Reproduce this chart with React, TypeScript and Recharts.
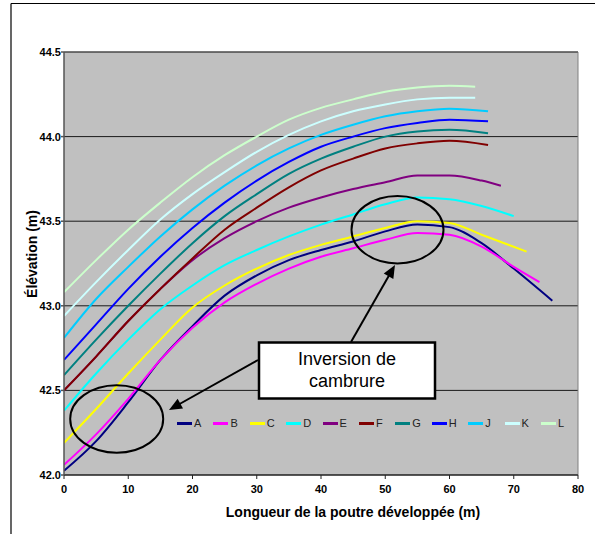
import React from 'react';
import {
  LineChart,
  Line,
  XAxis,
  YAxis,
  CartesianGrid,
  Legend,
  ReferenceLine,
} from 'recharts';

// distances along the beam (m) and elevations (m), one pair per curve
const lenA = [0, 5, 10, 15, 20, 25, 30, 35, 40, 45, 50, 55, 60, 65, 70, 76];
const elevA = [42.025, 42.2, 42.43, 42.68, 42.88, 43.06, 43.18, 43.27, 43.33, 43.38, 43.44, 43.48, 43.465, 43.37, 43.22, 43.03];

const lenB = [0, 5, 10, 15, 20, 25, 30, 35, 40, 45, 50, 55, 60, 65, 70, 74];
const elevB = [42.06, 42.24, 42.45, 42.68, 42.87, 43.02, 43.13, 43.22, 43.29, 43.34, 43.39, 43.43, 43.42, 43.35, 43.23, 43.14];

const lenC = [0, 5, 10, 15, 20, 25, 30, 35, 40, 45, 50, 55, 60, 65, 72];
const elevC = [42.19, 42.39, 42.6, 42.8, 42.99, 43.12, 43.22, 43.3, 43.36, 43.41, 43.46, 43.5, 43.49, 43.42, 43.32];

const lenD = [0, 5, 10, 15, 20, 25, 30, 35, 40, 45, 50, 55, 60, 65, 70];
const elevD = [42.38, 42.6, 42.8, 42.98, 43.12, 43.24, 43.33, 43.41, 43.48, 43.54, 43.6, 43.64, 43.63, 43.59, 43.53];

const lenE = [0, 5, 10, 15, 20, 25, 30, 35, 40, 45, 50, 55, 60, 65, 68];
const elevE = [42.5, 42.7, 42.91, 43.1, 43.27, 43.4, 43.5, 43.58, 43.64, 43.69, 43.73, 43.77, 43.77, 43.74, 43.71];

const lenFtoJ = [0, 5, 10, 15, 20, 25, 30, 35, 40, 45, 50, 55, 60, 66];
const elevF = [42.5, 42.7, 42.91, 43.1, 43.28, 43.45, 43.58, 43.7, 43.8, 43.87, 43.93, 43.96, 43.975, 43.95];
const elevG = [42.59, 42.8, 43.0, 43.19, 43.37, 43.53, 43.66, 43.78, 43.87, 43.94, 44.0, 44.03, 44.04, 44.02];
const elevH = [42.68, 42.89, 43.1, 43.29, 43.46, 43.61, 43.74, 43.85, 43.94, 44.0, 44.05, 44.08, 44.1, 44.09];
const elevJ = [42.81, 43.04, 43.23, 43.41, 43.57, 43.71, 43.83, 43.93, 44.01, 44.07, 44.12, 44.15, 44.165, 44.15];

const lenKL = [0, 5, 10, 15, 20, 25, 30, 35, 40, 45, 50, 55, 60, 64];
const elevK = [42.94, 43.14, 43.33, 43.51, 43.66, 43.79, 43.91, 44.01, 44.09, 44.15, 44.19, 44.22, 44.23, 44.23];
const elevL = [43.08, 43.27, 43.45, 43.61, 43.76, 43.89, 44.0, 44.1, 44.17, 44.22, 44.265, 44.29, 44.3, 44.295];

const xTicks = [0, 10, 20, 30, 40, 50, 60, 70, 80];
const yTicks = [42.0, 42.5, 43.0, 43.5, 44.0, 44.5];

const zip = (xs: number[], ys: number[]) => xs.map((x, i) => ({ x, y: ys[i] }));

const SERIES = [
  { name: 'A', color: '#000080', data: zip(lenA, elevA) },
  { name: 'B', color: '#FF00FF', data: zip(lenB, elevB) },
  { name: 'C', color: '#FFFF00', data: zip(lenC, elevC) },
  { name: 'D', color: '#00FFFF', data: zip(lenD, elevD) },
  { name: 'E', color: '#800080', data: zip(lenE, elevE) },
  { name: 'F', color: '#800000', data: zip(lenFtoJ, elevF) },
  { name: 'G', color: '#008080', data: zip(lenFtoJ, elevG) },
  { name: 'H', color: '#0000FF', data: zip(lenFtoJ, elevH) },
  { name: 'J', color: '#00CCFF', data: zip(lenFtoJ, elevJ) },
  { name: 'K', color: '#CCFFFF', data: zip(lenKL, elevK) },
  { name: 'L', color: '#CCFFCC', data: zip(lenKL, elevL) },
];

const FONT = 'Arial, "Liberation Sans", sans-serif';

const renderLegend = (props: any) => {
  const { payload } = props;
  return (
    <div style={{ display: 'flex', fontFamily: FONT, fontSize: 11, color: '#222' }}>
      {payload.map((entry: any) => (
        <div key={entry.value} style={{ width: 36.4, display: 'flex', alignItems: 'center', height: 14 }}>
          <span style={{ display: 'inline-block', width: 15, height: 3, background: entry.color, marginRight: 2 }} />
          <span>{entry.value}</span>
        </div>
      ))}
    </div>
  );
};

// arrowhead pointing from (x1,y1) to tip (x2,y2)
const arrowHead = (x1: number, y1: number, x2: number, y2: number) => {
  const a = Math.atan2(y2 - y1, x2 - x1);
  const len = 13;
  const w = 5.5;
  const bx = x2 - len * Math.cos(a);
  const by = y2 - len * Math.sin(a);
  const px = -Math.sin(a) * w;
  const py = Math.cos(a) * w;
  return `${x2},${y2} ${bx + px},${by + py} ${bx - px},${by - py}`;
};

export default function App() {
  return (
    <div style={{ position: 'absolute', left: 0, top: 0, width: 595, height: 534, background: '#fff' }}>
      <LineChart
        width={595}
        height={534}
        margin={{ top: 52, right: 17, bottom: 29, left: 0 }}
      >
        <CartesianGrid vertical={false} stroke="#1a1a1a" fill="#C0C0C0" fillOpacity={1} />
        <XAxis
          type="number"
          dataKey="x"
          domain={[0, 80]}
          ticks={xTicks}
          height={30}
          tickSize={4}
          tickMargin={6}
          stroke="#222"
          tick={{ fill: '#000', fontSize: 11, fontWeight: 'bold', fontFamily: FONT }}
          allowDataOverflow
        />
        <YAxis
          type="number"
          dataKey="y"
          domain={[42, 44.5]}
          ticks={yTicks}
          width={64}
          tickSize={3}
          tickMargin={0}
          stroke="#555"
          strokeWidth={1.5}
          tickFormatter={(v: number) => v.toFixed(1)}
          tick={{ fill: '#000', fontSize: 11, fontWeight: 'bold', fontFamily: FONT }}
          allowDataOverflow
        />
        <ReferenceLine x={80} stroke="#808080" />
        <ReferenceLine y={44.5} stroke="#606060" />
        {SERIES.map((s) => (
          <Line
            key={s.name}
            data={s.data}
            dataKey="y"
            name={s.name}
            type="monotone"
            stroke={s.color}
            strokeWidth={2}
            dot={false}
            isAnimationActive={false}
          />
        ))}
        <Legend
          content={renderLegend}
          layout="horizontal"
          verticalAlign="middle"
          align="center"
          wrapperStyle={{ left: 177, top: 416, width: 410, height: 14 }}
        />
      </LineChart>

      <svg
        width={595}
        height={534}
        style={{ position: 'absolute', left: 0, top: 0, pointerEvents: 'none' }}
      >
        {/* chart area frame */}
        <line x1={11} y1={3.5} x2={595} y2={3.5} stroke="#000" strokeWidth={1.2} />
        <line x1={11} y1={3.5} x2={11} y2={534} stroke="#000" strokeWidth={1.2} />

        {/* axis titles */}
        <text
          x={353}
          y={517}
          textAnchor="middle"
          fontFamily={FONT}
          fontSize={14}
          fontWeight="bold"
          fill="#000"
        >
          Longueur de la poutre développée (m)
        </text>
        <text
          transform="translate(37,254) rotate(-90)"
          textAnchor="middle"
          fontFamily={FONT}
          fontSize={14}
          fontWeight="bold"
          fill="#000"
        >
          Élévation (m)
        </text>

        {/* annotations */}
        <ellipse cx={116.7} cy={419} rx={46.5} ry={33.8} fill="none" stroke="#000" strokeWidth={2} />
        <ellipse cx={397.5} cy={229.7} rx={46} ry={33.7} fill="none" stroke="#000" strokeWidth={2} />

        <line x1={258} y1={360} x2={176} y2={406} stroke="#000" strokeWidth={2} />
        <polygon points={arrowHead(258, 360, 169, 410)} fill="#000" />
        <line x1={351} y1={342} x2={391} y2={272} stroke="#000" strokeWidth={2} />
        <polygon points={arrowHead(351, 342, 395, 265)} fill="#000" />

        <rect x={259} y={342.5} width={176} height={56} fill="#fff" stroke="#000" strokeWidth={2.5} />
        <text x={347} y={365} textAnchor="middle" fontFamily={FONT} fontSize={18} fill="#000">
          Inversion de
        </text>
        <text x={347} y={387} textAnchor="middle" fontFamily={FONT} fontSize={18} fill="#000">
          cambrure
        </text>
      </svg>
    </div>
  );
}
